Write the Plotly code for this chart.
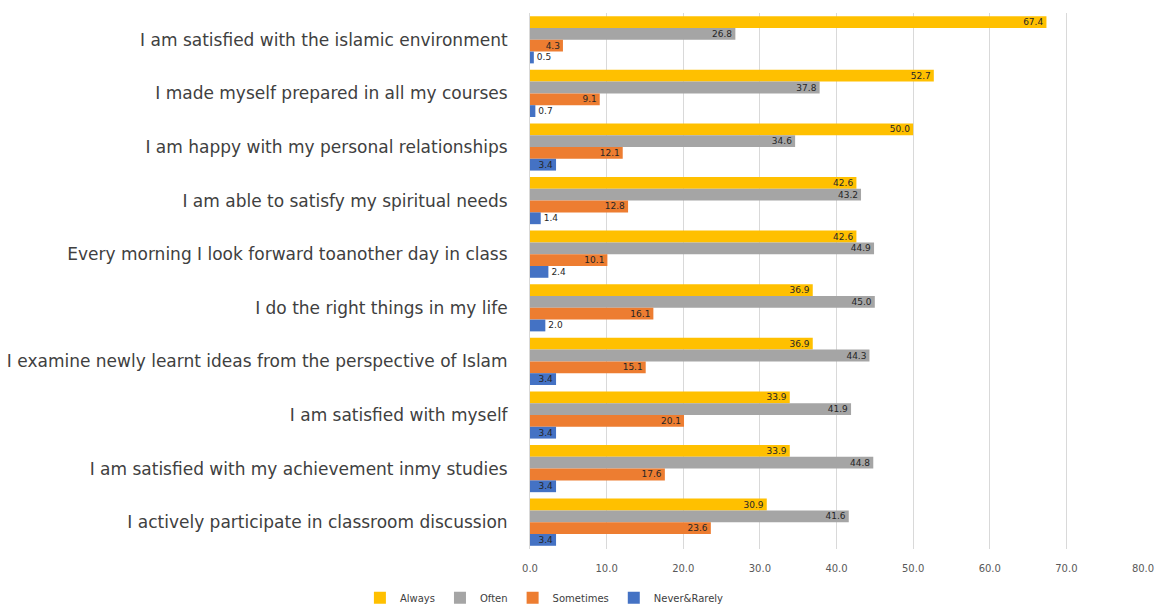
import plotly.graph_objects as go

categories = [
    "I am satisfied with the islamic environment",
    "I made myself prepared in all my courses",
    "I am happy with my personal relationships",
    "I am able to satisfy my spiritual needs",
    "Every morning I look forward toanother day in class",
    "I do the right things in my life",
    "I examine newly learnt ideas from the perspective of Islam",
    "I am satisfied with myself",
    "I am satisfied with my achievement inmy studies",
    "I actively participate in classroom discussion",
]
always = [67.4, 52.7, 50.0, 42.6, 42.6, 36.9, 36.9, 33.9, 33.9, 30.9]
often = [26.8, 37.8, 34.6, 43.2, 44.9, 45.0, 44.3, 41.9, 44.8, 41.6]
sometimes = [4.3, 9.1, 12.1, 12.8, 10.1, 16.1, 15.1, 20.1, 17.6, 23.6]
never_rarely = [0.5, 0.7, 3.4, 1.4, 2.4, 2.0, 3.4, 3.4, 3.4, 3.4]

series = [
    ("Always", always, "#FFC000"),
    ("Often", often, "#A5A5A5"),
    ("Sometimes", sometimes, "#ED7D31"),
    ("Never&Rarely", never_rarely, "#4472C4"),
]

fig = go.Figure()
for name, vals, color in series:
    fig.add_trace(go.Bar(
        y=categories, x=vals, name=name, orientation="h",
        marker=dict(color=color, line=dict(width=0)),
        text=[f"{v:.1f}" for v in vals],
        textposition=["inside" if v >= 3 else "outside" for v in vals],
        insidetextanchor="end",
        textfont=dict(size=9, color="#262626", family="DejaVu Sans"),
        outsidetextfont=dict(size=9, color="#262626", family="DejaVu Sans"),
        cliponaxis=False,
    ))

fig.update_layout(
    width=1161, height=610,
    margin=dict(l=530, r=18, t=13, b=61, autoexpand=False),
    barmode="group", bargap=0.12, bargroupgap=0,
    plot_bgcolor="white", paper_bgcolor="white",
    font=dict(family="DejaVu Sans", color="#404040"),
    uniformtext=dict(minsize=7, mode="show"),
    legend=dict(orientation="h", xref="container", yref="container",
                x=0.31, xanchor="left", y=0.02, yanchor="middle",
                font=dict(size=10, color="#404040"), traceorder="normal",
                itemwidth=30),
    showlegend=True,
)
fig.update_xaxes(range=[0, 80], dtick=10, tickformat=".1f", showgrid=True,
                 gridcolor="#D9D9D9", gridwidth=1, zeroline=False,
                 tickfont=dict(size=10, color="#595959"), ticks="",
                 ticklabelstandoff=12)
fig.update_yaxes(autorange="reversed", tickfont=dict(size=17, color="#404040"),
                 ticklabelstandoff=18, showline=True, linecolor="#D9D9D9", ticks="")

fig.write_html("out.html")
